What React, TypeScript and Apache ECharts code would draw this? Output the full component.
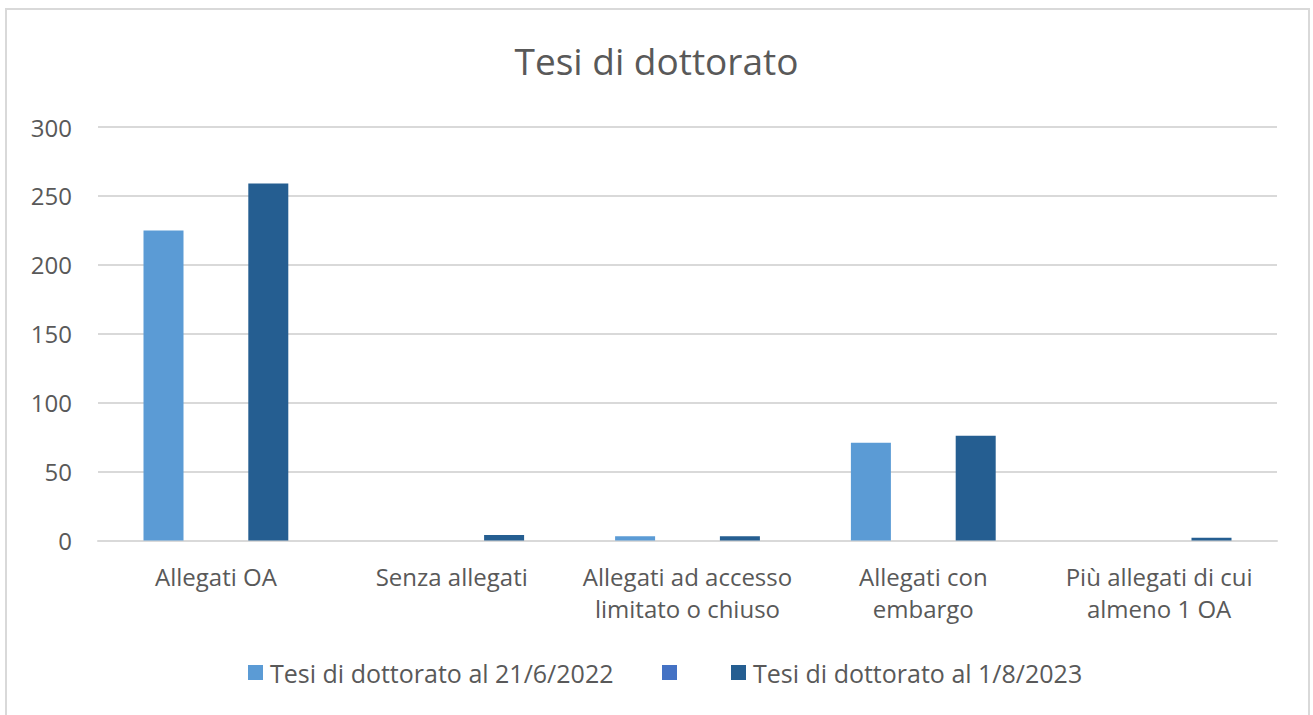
import React, { useEffect, useRef } from "react";
import * as echarts from "echarts";

const categories = [
  "Allegati OA",
  "Senza allegati",
  "Allegati ad accesso\nlimitato o chiuso",
  "Allegati con\nembargo",
  "Più allegati di cui\nalmeno 1 OA",
];
const series2022 = [225, 0, 3, 71, 0];
const seriesMid = [0, 0, 0, 0, 0];
const series2023 = [259, 4, 3, 76, 2];
const seriesNames = ["Tesi di dottorato al 21/6/2022", " ", "Tesi di dottorato al 1/8/2023"];
const yTicks = [0, 50, 100, 150, 200, 250, 300];

const FONT = "'Open Sans', 'Noto Sans', sans-serif";
const TXT = "#595959";

export default function App() {
  const ref = useRef<HTMLDivElement>(null);
  useEffect(() => {
    if (!ref.current) return;
    const chart = echarts.init(ref.current, undefined, { renderer: "svg" });
    const legendBase = {
      top: 660,
      itemWidth: 15,
      itemHeight: 15,
      itemGap: 10,
      padding: 0,
      icon: "rect",
      textStyle: { fontFamily: FONT, fontSize: 25, color: TXT, padding: [0, 0, 0, 2] },
    };
    chart.setOption({
      animation: false,
      backgroundColor: "#ffffff",
      textStyle: { fontFamily: FONT },
      title: {
        text: "Tesi di dottorato",
        left: "center",
        top: 37,
        textStyle: { fontFamily: FONT, fontSize: 37, fontWeight: "normal", color: TXT },
      },
      graphic: [
        {
          type: "rect",
          shape: { x: 6, y: 9, width: 1303, height: 720 },
          style: { fill: "none", stroke: "#d9d9d9", lineWidth: 2 },
          silent: true,
        },
      ],
      legend: [
        { ...legendBase, left: 248, data: [seriesNames[0]] },
        { ...legendBase, left: 662, data: [seriesNames[1]] },
        { ...legendBase, left: 731, data: [seriesNames[2]] },
      ],
      grid: { left: 98, right: 36, top: 127, bottom: 174.5, containLabel: false },
      xAxis: {
        type: "category",
        data: categories,
        axisLine: { lineStyle: { color: "#d9d9d9", width: 2 } },
        axisTick: { show: false },
        axisLabel: {
          fontFamily: FONT,
          fontSize: 24,
          color: TXT,
          margin: 20,
          lineHeight: 32,
          interval: 0,
        },
      },
      yAxis: {
        type: "value",
        min: yTicks[0],
        max: yTicks[yTicks.length - 1],
        interval: 50,
        axisLine: { show: false },
        axisTick: { show: false },
        splitLine: { lineStyle: { color: "#d9d9d9", width: 2 } },
        axisLabel: { fontFamily: FONT, fontSize: 24, color: TXT, margin: 26 },
      },
      series: [
        {
          name: seriesNames[0],
          type: "bar",
          data: series2022,
          barWidth: 40,
          barGap: "31%",
          itemStyle: { color: "#5B9BD5" },
        },
        {
          name: seriesNames[1],
          type: "bar",
          data: seriesMid,
          barWidth: 40,
          barGap: "31%",
          itemStyle: { color: "#4472C4" },
        },
        {
          name: seriesNames[2],
          type: "bar",
          data: series2023,
          barWidth: 40,
          barGap: "31%",
          itemStyle: { color: "#255E91" },
        },
      ],
    });
    return () => chart.dispose();
  }, []);
  return (
    <div style={{ position: "fixed", left: 0, top: 0, width: 1313, height: 715, background: "#fff" }}>
      <div ref={ref} style={{ width: 1313, height: 715 }} />
    </div>
  );
}
